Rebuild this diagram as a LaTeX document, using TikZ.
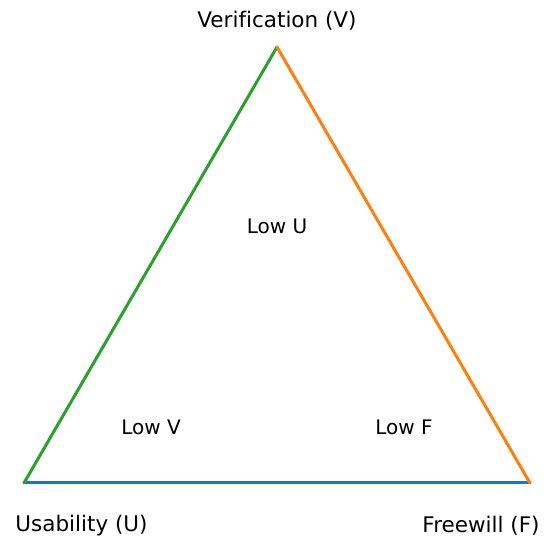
\documentclass[tikz,border=0pt]{standalone}
\usepackage{fontspec}
\setmainfont[Ligatures=NoCommon]{DejaVu Sans}
\usepackage{tikz}
\usetikzlibrary{positioning,calc}
\definecolor{tabgreen}{RGB}{44,160,44}
\definecolor{taborange}{RGB}{255,127,14}
\definecolor{tabblue}{RGB}{31,119,180}

\begin{document}
\begin{tikzpicture}[
    x=1pt,y=1pt,
    edge/.style={line width=3pt,line cap=round},
    corner/.style={font=\fontsize{21.5}{25}\selectfont,anchor=center},
    region/.style={font=\fontsize{20}{24}\selectfont,anchor=center}
  ]
    \useasboundingbox (0,0) rectangle (552,540);
    \coordinate (V) at (277,493);
    \coordinate (U) at (24,57);
    \coordinate (F) at (530,57);
    % edges of the triangle
    \draw[edge,tabblue] (U) -- (F);
    \draw[edge,tabgreen] (U) -- (V);
    \draw[edge,taborange] (F) -- (V);
    % corner labels
    \node[corner] (vlabel) at (277,519) {Verification (V)};
    \node[corner] (ulabel) at (81.5,14) {Usability (U)};
    \node[corner] (flabel) at (481,14) {Freewill (F)};
    % regions
    \node[region] (lowu) at (277,314) {Low U};
    \node[region] (lowv) at (151,113) {Low V};
    \node[region] (lowf) at (404,113) {Low F};
  \end{tikzpicture}
\end{document}
